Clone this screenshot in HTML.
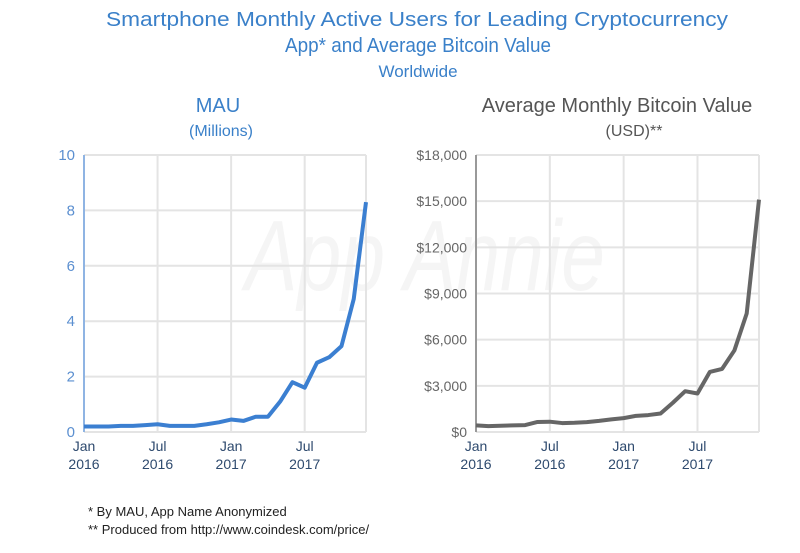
<!DOCTYPE html>
<html><head><meta charset="utf-8"><style>
html,body{margin:0;padding:0;background:#fff;}
svg{display:block;font-family:"Liberation Sans",sans-serif;}
</style></head><body>
<svg id="c" width="800" height="553" viewBox="0 0 800 553">
<text x="300" y="290" text-anchor="middle" font-size="100" font-style="italic" fill="#f5f5f5" textLength="360" lengthAdjust="spacingAndGlyphs" transform="translate(125,0)">App Annie</text>
<text x="417" y="26" text-anchor="middle" font-size="20" fill="#3a80c9" textLength="622" lengthAdjust="spacingAndGlyphs">Smartphone Monthly Active Users for Leading Cryptocurrency</text>
<text x="418" y="52" text-anchor="middle" font-size="20" fill="#3a80c9" textLength="266" lengthAdjust="spacingAndGlyphs">App* and Average Bitcoin Value</text>
<text x="418" y="77" text-anchor="middle" font-size="17" fill="#3a80c9">Worldwide</text>
<text x="218" y="112" text-anchor="middle" font-size="20" fill="#3a80c9">MAU</text>
<text x="221" y="136" text-anchor="middle" font-size="16" fill="#3a80c9">(Millions)</text>
<text x="617" y="112" text-anchor="middle" font-size="20" fill="#555">Average Monthly Bitcoin Value</text>
<text x="634" y="136" text-anchor="middle" font-size="16" fill="#555">(USD)**</text>
<g id="left"></g>
<g id="right"></g>
<text x="88" y="516" font-size="13" fill="#222">* By MAU, App Name Anonymized</text>
<text x="88" y="534" font-size="13" fill="#222">** Produced from http://www.coindesk.com/price/</text>
</svg>
<script>
const months = ["Jan16","Feb16","Mar16","Apr16","May16","Jun16","Jul16","Aug16","Sep16","Oct16","Nov16","Dec16","Jan17","Feb17","Mar17","Apr17","May17","Jun17","Jul17","Aug17","Sep17","Oct17","Nov17","Dec17"];
const mauValues = [0.2,0.2,0.2,0.22,0.22,0.25,0.28,0.22,0.22,0.22,0.28,0.35,0.45,0.4,0.55,0.55,1.1,1.8,1.6,2.5,2.7,3.1,4.8,8.3];
const btcValues = [430,380,410,430,450,650,670,580,600,640,720,820,900,1050,1100,1200,1900,2650,2500,3900,4100,5300,7700,15100];
const mauTicks = [0,2,4,6,8,10];
const btcTicks = [0,3000,6000,9000,12000,15000,18000];
const btcTickLabels = ["$0","$3,000","$6,000","$9,000","$12,000","$15,000","$18,000"];
const xTickIdx = [0,6,12,18];
const xTickLine1 = ["Jan","Jul","Jan","Jul"];
const xTickLine2 = ["2016","2016","2017","2017"];
const NS="http://www.w3.org/2000/svg";
function mk(p,t,a){const e=document.createElementNS(NS,t);for(const k in a)e.setAttribute(k,a[k]);p.appendChild(e);return e;}
function draw(g,x0,x1,vals,ticks,labels,max,fs,labCol,axisCol,lineCol,name){
  const y0=432,y1=155;
  const xs=i=>x0+(x1-x0)*i/(months.length-1);
  const ys=v=>y0-(y0-y1)*v/max;
  ticks.forEach((t,i)=>{
    const l=mk(g,"line",{x1:x0,x2:x1,y1:ys(t),y2:ys(t),stroke:"#e4e4e4","stroke-width":2});
    
    
    const tx=mk(g,"text",{x:x0-9,y:ys(t)+5,"text-anchor":"end","font-size":fs,fill:labCol});
    tx.textContent=labels[i];
    
    
  });
  const r=mk(g,"line",{x1:x1,x2:x1,y1:y1,y2:y0,stroke:"#e4e4e4","stroke-width":2});
  
  
  xTickIdx.forEach((m,i)=>{
    const gl=mk(g,"line",{x1:xs(m),x2:xs(m),y1:y1,y2:y0,stroke:"#e4e4e4","stroke-width":2});
    
    
    const t1=mk(g,"text",{x:xs(m),y:451,"text-anchor":"middle","font-size":14,fill:"#2e4a6e"});
    t1.textContent=xTickLine1[i];
    
    
    const t2=mk(g,"text",{x:xs(m),y:469,"text-anchor":"middle","font-size":14,fill:"#2e4a6e"});
    t2.textContent=xTickLine2[i];
    
    
  });
  const ax=mk(g,"line",{x1:x0,x2:x0,y1:y1,y2:y0,stroke:axisCol,"stroke-width":2});
  
  
  const pl=mk(g,"polyline",{points:vals.map((v,i)=>xs(i)+","+ys(v)).join(" "),fill:"none",stroke:lineCol,"stroke-width":4,"stroke-linejoin":"round"});
  
  
}
draw(document.getElementById("left"),84,366,mauValues,mauTicks,mauTicks.map(String),10,15,"#5b8fd0","#8fb4e3","#3b7fd1","mau-line");
draw(document.getElementById("right"),476,759,btcValues,btcTicks,btcTickLabels,18000,14,"#666","#999","#666","bitcoin-line");
</script>
</body></html>
